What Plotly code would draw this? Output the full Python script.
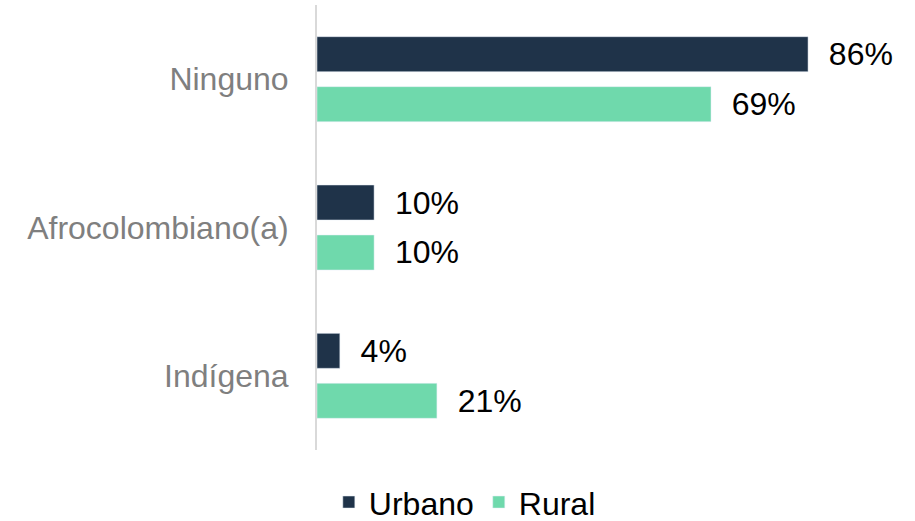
import plotly.graph_objects as go

categories = ['Ninguno', 'Afrocolombiano(a)', 'Indígena']
urbano = [86, 10, 4]
rural = [69, 10, 21]

FONT = 'Liberation Sans, Arial, sans-serif'
PAD = '\u00a0\u00a0'

fig = go.Figure()

fig.add_trace(go.Bar(
    name='Urbano',
    y=categories,
    x=urbano,
    orientation='h',
    marker_color='#1F3349',
    text=[f'{PAD}{v}%' for v in urbano],
    textposition='outside',
    textfont=dict(size=32, color='#000000', family=FONT),
    cliponaxis=False
))

fig.add_trace(go.Bar(
    name='Rural',
    y=categories,
    x=rural,
    orientation='h',
    marker_color='#6FD9AC',
    text=[f'{PAD}{v}%' for v in rural],
    textposition='outside',
    textfont=dict(size=32, color='#000000', family=FONT),
    cliponaxis=False
))

fig.update_layout(
    width=915,
    height=521,
    barmode='group',
    bargap=0.326,
    bargroupgap=0.3,
    uniformtext=dict(minsize=32, mode='show'),
    plot_bgcolor='white',
    paper_bgcolor='white',
    margin=dict(l=317, r=27, t=5, b=71),
    font=dict(family=FONT),
    showlegend=True,
    legend=dict(
        orientation='h',
        xref='container',
        yref='container',
        x=0.508,
        xanchor='center',
        y=0.036,
        yanchor='middle',
        font=dict(size=32, color='#000000'),
        itemwidth=30
    ),
    xaxis=dict(
        range=[0, 100],
        visible=False,
        showgrid=False,
        zeroline=False
    ),
    yaxis=dict(
        autorange='reversed',
        showline=True,
        linecolor='#D9D9D9',
        linewidth=2,
        showgrid=False,
        ticks='',
        ticklabelstandoff=20,
        tickfont=dict(size=32, color='#7F7F7F')
    )
)

fig.write_html("out.html", config={'displayModeBar': False},
               post_script="document.body.style.margin='0';")
